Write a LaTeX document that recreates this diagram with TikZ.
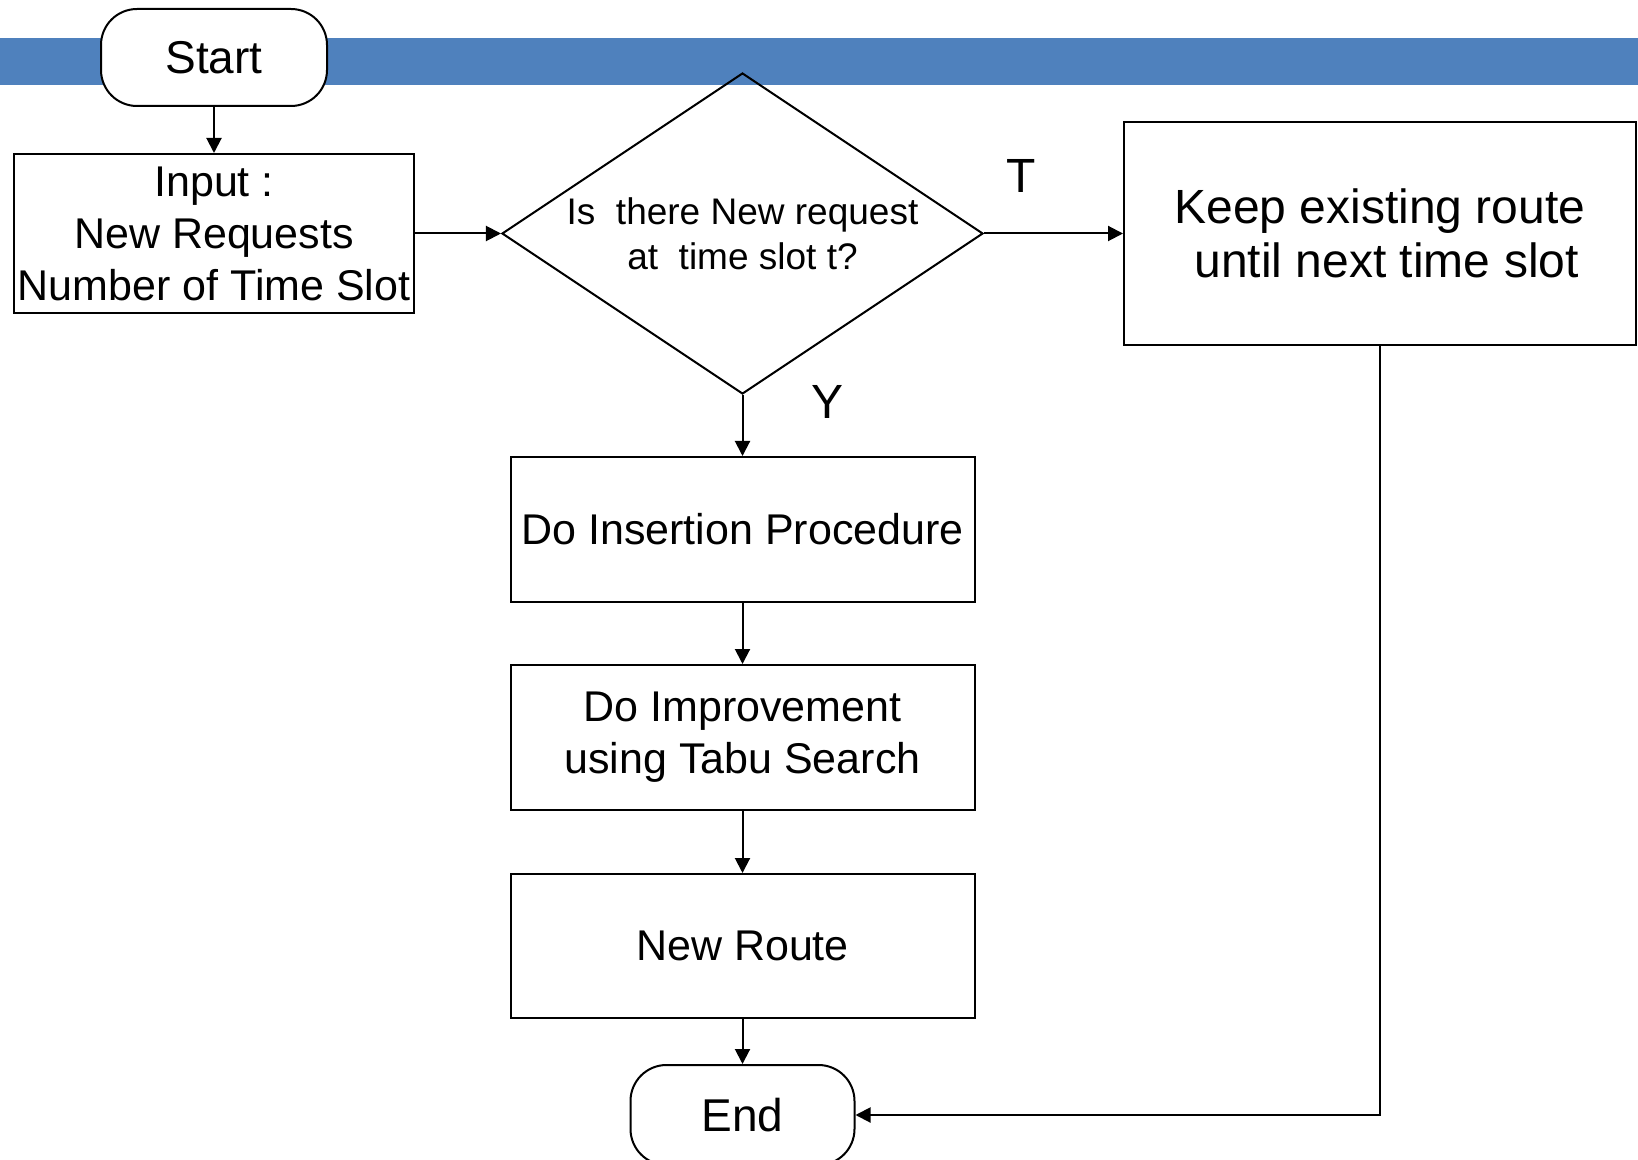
\documentclass[tikz,border=0pt]{standalone}
\usepackage{fontspec}
\setmainfont{Liberation Sans}
\usepackage{tikz}
\usetikzlibrary{arrows.meta,positioning,shapes.geometric}
\definecolor{banda}{HTML}{4F81BD}
\newcommand{\letra}[2]{\fontsize{#1}{#2}\selectfont}

\begin{document}
\begin{tikzpicture}[node distance=24pt, box/.style={draw,line width=1pt,align=center,inner sep=0pt,font=\letra{21.5pt}{26pt}}, term/.style={draw,line width=1pt,fill=white,rounded corners=18pt,inner sep=0pt,font=\letra{23pt}{27pt}}, decision/.style={draw,line width=1pt,diamond,aspect=1.5,inner sep=0pt,align=center,font=\letra{18.5pt}{22.5pt}}, lbl/.style={inner sep=0pt,font=\letra{24pt}{28pt}}, arr/.style={-{Triangle[length=7.5pt,width=7.5pt]},line width=1pt}]
\useasboundingbox (0,0) rectangle (819pt,-580pt);
\fill[banda] (0,-19pt) rectangle (819pt,-42.5pt);
\node[term,minimum width=113pt,minimum height=48.5pt] (start) at (107pt,-28.75pt) {Start};
\node[box,below=23pt of start,minimum width=200pt,minimum height=79.5pt] (inp) {Input :\\New Requests\\Number of Time Slot};
\node[decision,minimum width=240.5pt,minimum height=160.5pt,right=43pt of inp] (dec) {Is\ \ there New request\\at\ \ time slot t?};
\node[box,font=\letra{24pt}{27pt},minimum width=256pt,minimum height=111.5pt,right=69.5pt of dec] (keep) {Keep existing route\\\ until next time slot};
\node[box,minimum width=232pt,minimum height=72.5pt,below=30.5pt of dec] (ins) {Do Insertion Procedure};
\node[box,minimum width=232pt,minimum height=72.5pt,below=30.5pt of ins] (imp) {Do Improvement\\using Tabu Search};
\node[box,minimum width=232pt,minimum height=72pt,below=31pt of imp] (rte) {New Route};
\node[term,minimum width=112pt,minimum height=50pt,below=22.5pt of rte] (end) {End};
\draw[arr] (start)--(inp); \draw[arr] (inp)--(dec);
\draw[arr] (dec)-- node[lbl,above=20pt,pos=0.27] (tlab) {T} (keep);
\draw[arr] (dec)-- node[lbl,right=34pt,pos=0.11] (ylab) {Y} (ins);
\draw[arr] (ins)--(imp); \draw[arr] (imp)--(rte); \draw[arr] (rte)--(end);
\draw[arr] (keep.south)|-(end.east);
\end{tikzpicture}
\end{document}
